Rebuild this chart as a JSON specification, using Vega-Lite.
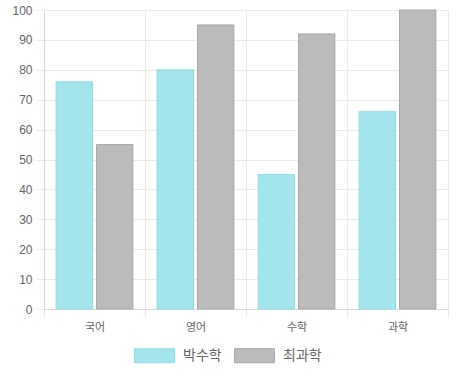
{
  "$schema": "https://vega.github.io/schema/vega-lite/v6.json",
  "width": 404,
  "height": 299,
  "autosize": {"type": "none"},
  "padding": {"left": 44, "top": 10, "right": 10, "bottom": 75},
  "config": {
    "font": "Liberation Sans, Noto Sans CJK KR",
    "view": {"stroke": null},
    "axis": {"labelColor": "#666666", "labelFont": "Liberation Sans, Noto Sans CJK KR"}
  },
  "data": {
    "values": [
      {"subject": "국어", "person": "박수학", "score": 76},
      {"subject": "국어", "person": "최과학", "score": 55},
      {"subject": "영어", "person": "박수학", "score": 80},
      {"subject": "영어", "person": "최과학", "score": 95},
      {"subject": "수학", "person": "박수학", "score": 45},
      {"subject": "수학", "person": "최과학", "score": 92},
      {"subject": "과학", "person": "박수학", "score": 66},
      {"subject": "과학", "person": "최과학", "score": 100}
    ]
  },
  "mark": {"type": "bar", "strokeWidth": 1},
  "encoding": {
    "x": {
      "field": "subject",
      "type": "nominal",
      "sort": ["국어", "영어", "수학", "과학"],
      "scale": {"paddingInner": 0, "paddingOuter": 0},
      "axis": {
        "title": null,
        "labelAngle": 0,
        "tickBand": "extent",
        "grid": true,
        "gridColor": "#ebebeb",
        "tickColor": "#ebebeb",
        "tickSize": 8,
        "domainColor": "#d9d9d9",
        "labelFontSize": 11,
        "labelPadding": 4
      }
    },
    "xOffset": {
      "field": "person",
      "type": "nominal",
      "scale": {"paddingInner": 0.1, "paddingOuter": 0.3}
    },
    "y": {
      "field": "score",
      "type": "quantitative",
      "scale": {"domain": [0, 100], "nice": false},
      "axis": {
        "title": null,
        "values": [0, 10, 20, 30, 40, 50, 60, 70, 80, 90, 100],
        "grid": true,
        "gridColor": "#ebebeb",
        "tickColor": "#ebebeb",
        "tickSize": 8,
        "domainColor": "#d9d9d9",
        "labelFontSize": 12,
        "labelPadding": 4
      }
    },
    "color": {
      "field": "person",
      "type": "nominal",
      "scale": {"domain": ["박수학", "최과학"], "range": ["#a4e4ec", "#bbbbbb"]},
      "legend": {
        "title": null,
        "orient": "none",
        "direction": "horizontal",
        "legendX": 90,
        "legendY": 325,
        "symbolType": "M-1,-0.35H1V0.35H-1Z",
        "symbolSize": 1600,
        "symbolStrokeWidth": 1,
        "labelFontSize": 14,
        "labelColor": "#666666",
        "columnPadding": 10,
        "labelOffset": 8
      }
    },
    "stroke": {
      "field": "person",
      "type": "nominal",
      "scale": {"domain": ["박수학", "최과학"], "range": ["#8fdde8", "#a8a8a8"]},
      "legend": null
    }
  }
}
